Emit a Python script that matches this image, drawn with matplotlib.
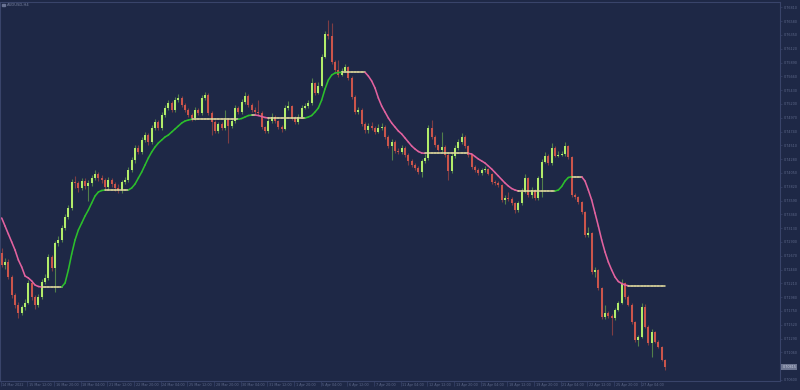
import matplotlib
matplotlib.use("Agg")
import matplotlib.pyplot as plt
import matplotlib.transforms as mtransforms
from matplotlib.collections import LineCollection
from matplotlib.patches import Rectangle
import numpy as np

# AUDUSD H4, 14 Mar 2022 - 28 Apr 2022
symbol_title = "AUDUSD,H4"
first_open = 0.72715
closes = [
    0.72515, 0.72565, 0.72315, 0.72015, 0.71849, 0.71715, 0.71815, 0.71882, 0.72215, 0.71982,
    0.71849, 0.71982, 0.72232, 0.72299, 0.72649, 0.72465, 0.72882, 0.72932, 0.73132, 0.73315,
    0.73465, 0.73899, 0.73882, 0.73799, 0.73915, 0.73832, 0.73882, 0.73965, 0.74032, 0.73965,
    0.73932, 0.73815, 0.73932, 0.73865, 0.73799, 0.73765, 0.73899, 0.73932, 0.74099, 0.74265,
    0.74465, 0.74399, 0.74599, 0.74682, 0.74565, 0.74799, 0.74899, 0.74799, 0.75015, 0.75132,
    0.75215, 0.75099, 0.75265, 0.75299, 0.75182, 0.75099, 0.75015, 0.74965, 0.75099, 0.75049,
    0.75299, 0.75349, 0.75049, 0.74899, 0.74749, 0.74865, 0.74799, 0.74932, 0.74832, 0.74915,
    0.75132, 0.75065, 0.75232, 0.75332, 0.75182, 0.75099, 0.75065, 0.75049, 0.74815, 0.74749,
    0.74915, 0.74982, 0.74915, 0.74815, 0.74782, 0.75132, 0.75165, 0.74965, 0.74899, 0.74982,
    0.75132, 0.75165, 0.75215, 0.75549, 0.75382, 0.75499, 0.75982, 0.76365, 0.76332, 0.75899,
    0.75765, 0.75682, 0.75749, 0.75815, 0.75632, 0.75315, 0.75065, 0.75099, 0.74865, 0.74765,
    0.74832, 0.74799, 0.74732, 0.74799, 0.74815, 0.74649, 0.74499, 0.74565, 0.74415, 0.74399,
    0.74465, 0.74349, 0.74249, 0.74182, 0.74132, 0.74065, 0.74249, 0.74299, 0.74799, 0.74649,
    0.74515, 0.74432, 0.74482, 0.74349, 0.74082, 0.74332, 0.74465, 0.74565, 0.74649, 0.74499,
    0.74349, 0.74149, 0.74099, 0.74049, 0.74099, 0.74115, 0.74032, 0.73899, 0.73882, 0.73849,
    0.73599, 0.73632, 0.73615, 0.73549, 0.73432, 0.73549, 0.73732, 0.73965, 0.73682, 0.73765,
    0.73632, 0.73965, 0.74232, 0.74332, 0.74215, 0.74465, 0.74332, 0.74349, 0.74365, 0.74499,
    0.74315, 0.73682, 0.73649, 0.73565, 0.73399, 0.73015, 0.73049, 0.72399, 0.72432, 0.72132,
    0.71649, 0.71715, 0.71665, 0.71632, 0.71765, 0.71882, 0.72215, 0.71982, 0.71849, 0.71565,
    0.71265, 0.71315, 0.71815, 0.71482, 0.71215, 0.71399, 0.71232, 0.71149, 0.70932, 0.70815,
]
highs = [
    0.7280, 0.7264, 0.7262, 0.7235, 0.7205, 0.7190, 0.7185, 0.7195, 0.7226, 0.7225,
    0.7202, 0.7203, 0.7228, 0.7236, 0.7270, 0.7268, 0.7292, 0.7300, 0.7318, 0.7337,
    0.7352, 0.7395, 0.7400, 0.7392, 0.7397, 0.7396, 0.7393, 0.7402, 0.7410, 0.7407,
    0.7402, 0.7397, 0.7398, 0.7397, 0.7390, 0.7386, 0.7394, 0.7398, 0.7415, 0.7432,
    0.7452, 0.7451, 0.7465, 0.7474, 0.7472, 0.7485, 0.7495, 0.7494, 0.7507, 0.7518,
    0.7527, 0.7525, 0.7532, 0.7536, 0.7533, 0.7522, 0.7513, 0.7505, 0.7515, 0.7514,
    0.7535, 0.7540, 0.7538, 0.7508, 0.7493, 0.7490, 0.7490, 0.7510, 0.7497, 0.7496,
    0.7518, 0.7516, 0.7529, 0.7540, 0.7536, 0.7521, 0.7515, 0.7527, 0.7508, 0.7484,
    0.7496, 0.7505, 0.7502, 0.7494, 0.7485, 0.7518, 0.7525, 0.7519, 0.7500, 0.7503,
    0.7518, 0.7521, 0.7527, 0.7563, 0.7557, 0.7556, 0.7603, 0.7642, 0.7660, 0.7655,
    0.7593, 0.7593, 0.7580, 0.7587, 0.7584, 0.7566, 0.7535, 0.7515, 0.7513, 0.7490,
    0.7488, 0.7490, 0.7484, 0.7486, 0.7488, 0.7485, 0.7468, 0.7461, 0.7460, 0.7446,
    0.7452, 0.7450, 0.7438, 0.7428, 0.7421, 0.7416, 0.7429, 0.7436, 0.7485, 0.7493,
    0.7468, 0.7454, 0.7473, 0.7451, 0.7438, 0.7438, 0.7452, 0.7462, 0.7471, 0.7468,
    0.7452, 0.7437, 0.7418, 0.7413, 0.7414, 0.7417, 0.7414, 0.7405, 0.7393, 0.7392,
    0.7387, 0.7368, 0.7373, 0.7365, 0.7357, 0.7358, 0.7380, 0.7403, 0.7399, 0.7382,
    0.7379, 0.7400, 0.7428, 0.7440, 0.7436, 0.7455, 0.7450, 0.7442, 0.7442, 0.7457,
    0.7452, 0.7434, 0.7372, 0.7367, 0.7358, 0.7342, 0.7315, 0.7306, 0.7249, 0.7245,
    0.7215, 0.7185, 0.7175, 0.7170, 0.7180, 0.7192, 0.7228, 0.7224, 0.7201, 0.7188,
    0.7158, 0.7135, 0.7188, 0.7186, 0.7151, 0.7145, 0.7142, 0.7126, 0.7117, 0.7095,
]
lows = [
    0.7248, 0.7245, 0.7228, 0.7196, 0.7180, 0.7163, 0.7168, 0.7176, 0.7186, 0.7194,
    0.7178, 0.7182, 0.7195, 0.7220, 0.7226, 0.7242, 0.7207, 0.7284, 0.7290, 0.7310,
    0.7328, 0.7344, 0.7380, 0.7374, 0.7376, 0.7379, 0.7359, 0.7384, 0.7393, 0.7392,
    0.7388, 0.7376, 0.7378, 0.7382, 0.7375, 0.7371, 0.7372, 0.7386, 0.7390, 0.7406,
    0.7422, 0.7436, 0.7436, 0.7456, 0.7452, 0.7453, 0.7476, 0.7476, 0.7477, 0.7498,
    0.7510, 0.7506, 0.7507, 0.7523, 0.7515, 0.7506, 0.7498, 0.7492, 0.7493, 0.7501,
    0.7502, 0.7526, 0.7502, 0.7468, 0.7471, 0.7472, 0.7476, 0.7477, 0.7455, 0.7480,
    0.7489, 0.7503, 0.7504, 0.7520, 0.7515, 0.7506, 0.7503, 0.7502, 0.7478, 0.7471,
    0.7472, 0.7489, 0.7488, 0.7478, 0.7474, 0.7476, 0.7510, 0.7494, 0.7486, 0.7487,
    0.7496, 0.7511, 0.7514, 0.7519, 0.7535, 0.7536, 0.7548, 0.7596, 0.7629, 0.7586,
    0.7574, 0.7565, 0.7566, 0.7573, 0.7560, 0.7528, 0.7503, 0.7503, 0.7483, 0.7472,
    0.7472, 0.7476, 0.7470, 0.7471, 0.7477, 0.7461, 0.7447, 0.7426, 0.7438, 0.7436,
    0.7437, 0.7432, 0.7418, 0.7415, 0.7410, 0.7403, 0.7398, 0.7422, 0.7427, 0.7462,
    0.7449, 0.7441, 0.7440, 0.7432, 0.7393, 0.7405, 0.7430, 0.7444, 0.7454, 0.7447,
    0.7432, 0.7412, 0.7407, 0.7402, 0.7401, 0.7407, 0.7401, 0.7387, 0.7385, 0.7382,
    0.7357, 0.7353, 0.7358, 0.7352, 0.7338, 0.7340, 0.7352, 0.7371, 0.7365, 0.7364,
    0.7360, 0.7360, 0.7365, 0.7421, 0.7419, 0.7419, 0.7431, 0.7431, 0.7433, 0.7434,
    0.7429, 0.7365, 0.7361, 0.7354, 0.7337, 0.7298, 0.7299, 0.7237, 0.7232, 0.7210,
    0.7162, 0.7162, 0.7163, 0.7135, 0.7160, 0.7175, 0.7186, 0.7195, 0.7183, 0.7154,
    0.7124, 0.7117, 0.7130, 0.7146, 0.7119, 0.7098, 0.7121, 0.7113, 0.7091, 0.7076,
]
# trend line indicator, one value per bar
trend_line = (
    [0.73299, 0.73165, 0.73032, 0.72899, 0.72765, 0.72599, 0.72482, 0.72332, 0.72299, 0.72249,
     0.72182, 0.72157] + [0.72149] * 7
    + [0.72215, 0.72432, 0.72699, 0.72932, 0.73099, 0.73215, 0.73332, 0.73432, 0.73549, 0.73665,
       0.73732, 0.73757] + [0.73765] * 8
    + [0.73799, 0.73865, 0.73965, 0.74065, 0.74182, 0.74299, 0.74399, 0.74482, 0.74549, 0.74599,
       0.74649, 0.74682, 0.74732, 0.74782, 0.74832, 0.74882, 0.74915, 0.74932] + [0.74944] * 15
    + [0.74957, 0.74982, 0.75007, 0.75015, 0.75015, 0.75007, 0.74990, 0.74974] + [0.74965] * 12
    + [0.74982, 0.75007, 0.75065, 0.75132, 0.75265, 0.75449, 0.75599, 0.75682, 0.75715, 0.75724]
    + [0.75727] * 8
    + [0.75665, 0.75582, 0.75465, 0.75299, 0.75165, 0.75065, 0.74965, 0.74882, 0.74815, 0.74749,
       0.74699, 0.74632, 0.74565, 0.74499, 0.74449, 0.74407, 0.74382] + [0.74377] * 14
    + [0.74365, 0.74324, 0.74282, 0.74249, 0.74215, 0.74165, 0.74115, 0.74057, 0.73999, 0.73940,
       0.73882, 0.73832, 0.73790, 0.73765] + [0.73749] * 12
    + [0.73765, 0.73824, 0.73915, 0.73974] + [0.73987] * 4
    + [0.73915, 0.73765, 0.73599, 0.73382, 0.73165, 0.72932, 0.72732, 0.72565, 0.72432, 0.72315,
       0.72240, 0.72207, 0.72182] + [0.72170] * 12
)

price_ticks = [
    0.76810, 0.76580, 0.76350, 0.76120, 0.75890, 0.75660, 0.75430, 0.75200, 0.74970, 0.74740,
    0.74510, 0.74280, 0.74050, 0.73820, 0.73590, 0.73360, 0.73130, 0.72900, 0.72670, 0.72440,
    0.72210, 0.71980, 0.71750, 0.71520, 0.71290, 0.71060, 0.70830, 0.70600,
]
date_labels = [
    "14 Mar 2022", "15 Mar 12:00", "16 Mar 20:00", "18 Mar 04:00", "21 Mar 12:00",
    "22 Mar 20:00", "24 Mar 04:00", "25 Mar 12:00", "28 Mar 20:00", "30 Mar 04:00",
    "31 Mar 12:00", "1 Apr 20:00", "5 Apr 04:00", "6 Apr 12:00", "7 Apr 20:00",
    "11 Apr 04:00", "12 Apr 12:00", "13 Apr 20:00", "15 Apr 04:00", "18 Apr 12:00",
    "19 Apr 20:00", "21 Apr 04:00", "22 Apr 12:00", "25 Apr 20:00", "27 Apr 04:00",
]
bars_per_label = 8

# colours
bg = "#1e2846"
frame = "#39446a"
text_col = "#5d6889"
bull_body, bull_wick = "#b2ec6a", "#52804a"
bear_body, bear_wick = "#cb554b", "#7e3d44"
up_col, down_col, flat_col = "#2cbf2c", "#e2629f", "#dcd69c"

n = len(closes)
opens = [first_open] + closes[:-1]
x = np.arange(n)
o = np.array(opens)
c = np.array(closes)
h = np.array(highs)
l = np.array(lows)

fig = plt.figure(figsize=(8, 3.9), dpi=100, facecolor=bg)
ax = fig.add_axes([0.0, 9 / 390, 780 / 800, 379 / 390])
ax.set_facecolor(bg)

up = c >= o
ax.vlines(x[up], l[up], h[up], color=bull_wick, lw=0.8, zorder=2)
ax.vlines(x[~up], l[~up], h[~up], color=bear_wick, lw=0.8, zorder=2)
body_lo = np.minimum(o, c)
body_h = np.maximum(np.abs(c - o), 0.00012)
ax.bar(x[up], body_h[up], bottom=body_lo[up], width=0.62, color=bull_body, linewidth=0, zorder=3)
ax.bar(x[~up], body_h[~up], bottom=body_lo[~up], width=0.62, color=bear_body, linewidth=0, zorder=3)

# trend line coloured by slope
tl = np.array(trend_line)
pts = np.column_stack([x, tl])
segs = np.stack([pts[:-1], pts[1:]], axis=1)
diff = np.diff(tl)
seg_cols = [up_col if d > 1e-7 else down_col if d < -1e-7 else flat_col for d in diff]
ax.add_collection(LineCollection(segs, colors=seg_cols, linewidths=1.15, zorder=4,
                                 capstyle="round", joinstyle="round"))

ax.set_xlim(-0.51, 233.5)
ax.set_ylim(0.70582, 0.76899)

for s in ax.spines.values():
    s.set_color(frame)
    s.set_linewidth(0.8)

# price scale on the right
ax.yaxis.tick_right()
ax.set_yticks(price_ticks)
ax.set_yticklabels([f"{p:.5f}" for p in price_ticks])
ax.tick_params(axis="y", length=1.5, width=0.5, pad=1.2, labelsize=2.4,
               colors=frame, labelcolor=text_col)

# time scale
label_pos = [k * bars_per_label for k in range(len(date_labels))]
ax.set_xticks([p - 0.3 for p in label_pos])
ax.set_xticklabels([])
ax.tick_params(axis="x", length=3.5, width=0.5, colors=frame, direction="out")
trans = mtransforms.blended_transform_factory(ax.transData, ax.transAxes)
for p, lab in zip(label_pos, date_labels):
    ax.text(p + 0.2, -0.006, lab, transform=trans, ha="left", va="top",
            fontsize=2.4, color=text_col, clip_on=False)

# current price box
tr_y = mtransforms.blended_transform_factory(ax.transAxes, ax.transData)
ax.text(1.003, closes[-1], f"{closes[-1]:.5f}", transform=tr_y, ha="left", va="center",
        fontsize=2.4, color="#c9cede", zorder=10, clip_on=False,
        bbox=dict(facecolor="#6c7591", edgecolor="none", pad=0.8))

# symbol caption
fig.patches.append(Rectangle((2 / 800, 1 - 6 / 390), 2.5 / 800, 2.5 / 390,
                             transform=fig.transFigure, color="#6a7494"))
fig.text(7 / 800, 1 - 2.6 / 390, symbol_title, ha="left", va="top",
         fontsize=2.7, color="#78829f")

fig.savefig("out.png", dpi=100, facecolor=bg)
